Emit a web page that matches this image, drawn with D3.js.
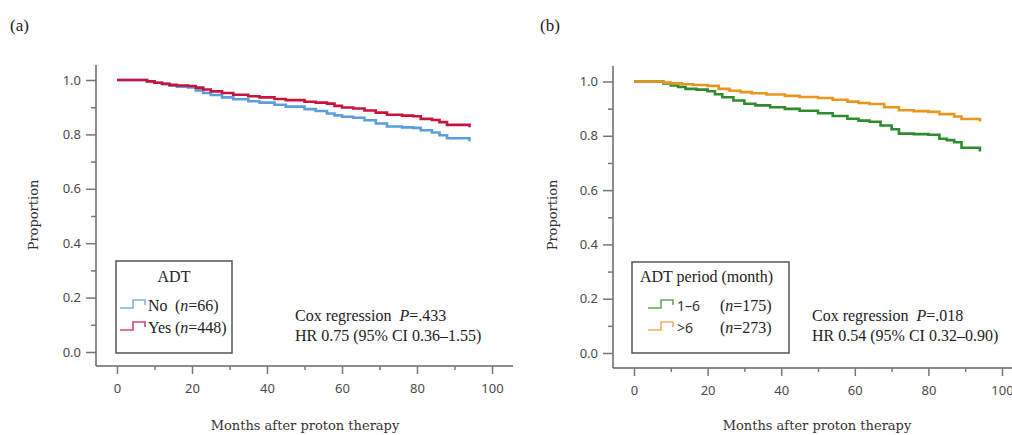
<!DOCTYPE html>
<html lang="en">
<head>
<meta charset="utf-8">
<title>Proportion vs months after proton therapy</title>
<script src="https://cdn.jsdelivr.net/npm/d3@7"></script>
<style>
  body { margin: 0; background: #fff; }
  .tick text { font-family: "Noto Sans", sans-serif; font-size: 13px; fill: #4a4a4a; }
  .serif { font-family: "Liberation Serif", serif; fill: #222; }
  .slab { font-family: "DejaVu Serif", serif; fill: #333; font-size: 13px; }
</style>
</head>
<body>
<script>
// time axis ticks
var xTicks = [0, 20, 40, 60, 80, 100];
var xMinor = [10, 30, 50, 70, 90];
var yTicks = [0, 0.2, 0.4, 0.6, 0.8, 1.0];
var yMinor = [0.1, 0.3, 0.5, 0.7, 0.9];

// panel (a): ADT no / yes
var noTime = [0, 8, 10, 12, 14, 16, 19, 21, 23, 25, 28, 31, 35, 38, 42, 45, 50, 53, 56, 58, 60, 63, 66, 69, 72, 76, 79, 81, 84, 86, 88, 94];
var noSurv = [1.0, 0.995, 0.99, 0.985, 0.979, 0.975, 0.973, 0.962, 0.952, 0.945, 0.936, 0.929, 0.922, 0.917, 0.909, 0.902, 0.893, 0.886, 0.877, 0.87, 0.865, 0.861, 0.852, 0.84, 0.829, 0.826, 0.824, 0.815, 0.807, 0.797, 0.786, 0.775];
var yesTime = [0, 8, 10, 12, 14, 16, 19, 21, 23, 25, 28, 31, 35, 38, 42, 45, 50, 53, 56, 58, 60, 63, 66, 69, 72, 76, 79, 81, 84, 86, 88, 94];
var yesSurv = [1.0, 0.995, 0.99, 0.986, 0.982, 0.98, 0.978, 0.972, 0.965, 0.958, 0.952, 0.946, 0.94, 0.936, 0.93, 0.926, 0.92, 0.917, 0.913, 0.905, 0.899, 0.895, 0.888, 0.88, 0.872, 0.869, 0.867, 0.857, 0.853, 0.845, 0.835, 0.826];

// panel (b): ADT period 1-6 / >6 months
var shortTime = [0, 8, 10, 12, 14, 17, 20, 22, 24, 27, 30, 33, 37, 41, 45, 50, 54, 58, 61, 64, 67, 70, 72, 76, 80, 83, 85, 87, 89, 94];
var shortSurv = [1.0, 0.993, 0.985, 0.98, 0.973, 0.97, 0.964, 0.953, 0.942, 0.93, 0.918, 0.912, 0.905, 0.899, 0.892, 0.883, 0.873, 0.863, 0.856, 0.852, 0.838, 0.824, 0.808, 0.806, 0.804, 0.789, 0.784, 0.776, 0.756, 0.742];
var longTime = [0, 8, 10, 13, 16, 20, 23, 26, 29, 32, 36, 41, 45, 50, 54, 58, 61, 64, 68, 72, 76, 80, 83, 87, 89, 94];
var longSurv = [1.0, 0.996, 0.993, 0.99, 0.987, 0.984, 0.973, 0.966, 0.961, 0.957, 0.952, 0.947, 0.943, 0.939, 0.933, 0.926, 0.921, 0.917, 0.905, 0.894, 0.891, 0.888, 0.88, 0.871, 0.862, 0.853];

var w = 1012, h = 435;
var svg = d3.select("body").append("svg").attr("width", w).attr("height", h);

var panels = [
  { tag: "(a)", tagX: 10, axX: 96, axTop: 65, axBot: 366, axRight: 513,
    xr: [117, 492], yr: [352, 80], ylabX: 33, xlabX: 305,
    series: [
      { t: noTime, s: noSurv, color: "#5b9ee0", legColor: "#7fb2e6" },
      { t: yesTime, s: yesSurv, color: "#c8143c", legColor: "#cf4a68" }
    ],
    legBox: [116, 261, 116, 92], legTitle: "ADT", legTitleX: 174, legTitleAnchor: "middle",
    legItems: [["No", "66"], ["Yes", "448"]], symX: 120, labX: 148, nX: 175, legFont: "serif",
    coxX: 295, p: ".433", hr: "HR 0.75 (95% CI 0.36\u20131.55)" },
  { tag: "(b)", tagX: 540, axX: 613, axTop: 66, axBot: 368, axRight: 1012,
    xr: [634, 1002], yr: [353, 81.5], ylabX: 552, xlabX: 817,
    series: [
      { t: shortTime, s: shortSurv, color: "#2e8b2e", legColor: "#62a862" },
      { t: longTime, s: longSurv, color: "#e8961e", legColor: "#ebb060" }
    ],
    legBox: [632, 262, 157, 91], legTitle: "ADT period (month)", legTitleX: 640, legTitleAnchor: "start",
    legItems: [["1\u20136", "175"], [">6", "273"]], symX: 648, labX: 677, nX: 720, legFont: "sans",
    coxX: 812, p: ".018", hr: "HR 0.54 (95% CI 0.32\u20130.90)" }
];

panels.forEach(function(p) {
  var x = d3.scaleLinear().domain([0, 100]).range(p.xr);
  var y = d3.scaleLinear().domain([0, 1]).range(p.yr);
  var g = svg.append("g");

  // panel tag
  g.append("text").attr("class", "serif").attr("x", p.tagX).attr("y", 31)
    .style("font-size", "17px").text(p.tag);

  // axes lines
  g.append("line").attr("x1", p.axX).attr("x2", p.axX).attr("y1", p.axTop).attr("y2", p.axBot)
    .attr("stroke", "#666").attr("stroke-width", 1.5);
  g.append("line").attr("x1", p.axX).attr("x2", p.axRight).attr("y1", p.axBot).attr("y2", p.axBot)
    .attr("stroke", "#666").attr("stroke-width", 1.5);

  var xAxis = d3.axisBottom(x).tickValues(xTicks).tickSize(8).tickPadding(10).tickFormat(d3.format("d"));
  var xa = g.append("g").attr("transform", "translate(0," + p.axBot + ")").call(xAxis);
  var xm = g.append("g").attr("transform", "translate(0," + p.axBot + ")")
    .call(d3.axisBottom(x).tickValues(xMinor).tickSize(4).tickFormat(""));
  var yAxis = d3.axisLeft(y).tickValues(yTicks).tickSize(10).tickPadding(5).tickFormat(d3.format(".1f"));
  var ya = g.append("g").attr("transform", "translate(" + p.axX + ",0)").call(yAxis);
  var ym = g.append("g").attr("transform", "translate(" + p.axX + ",0)")
    .call(d3.axisLeft(y).tickValues(yMinor).tickSize(5).tickFormat(""));
  [xa, xm, ya, ym].forEach(function(a) {
    a.select(".domain").remove();
    a.selectAll(".tick line").attr("stroke", "#777").attr("stroke-width", 1.5);
  });

  // axis titles
  g.append("text").attr("class", "slab")
    .attr("transform", "translate(" + (p.ylabX + 5) + ",215) rotate(-90)")
    .attr("text-anchor", "middle").text("Proportion");
  g.append("text").attr("class", "slab")
    .attr("x", p.xlabX).attr("y", 430)
    .attr("text-anchor", "middle").text("Months after proton therapy");

  // survival curves
  var line = d3.line().curve(d3.curveStepAfter)
    .x(function(d) { return x(d[0]); }).y(function(d) { return y(d[1]); });
  p.series.forEach(function(s) {
    var pts = s.t.map(function(t, i) { return [t, s.s[i]]; });
    g.append("path").datum(pts).attr("d", line)
      .attr("fill", "none").attr("stroke", s.color).attr("stroke-width", 2.6);
  });

  // legend
  g.append("rect").attr("x", p.legBox[0]).attr("y", p.legBox[1])
    .attr("width", p.legBox[2]).attr("height", p.legBox[3])
    .attr("fill", "none").attr("stroke", "#555").attr("stroke-width", 1.5);
  g.append("text").attr("class", "serif").attr("x", p.legTitleX).attr("y", 282)
    .attr("text-anchor", p.legTitleAnchor).style("font-size", "16px").text(p.legTitle);
  p.legItems.forEach(function(it, i) {
    var by = 311 + i * 22;
    var sx = p.symX;
    g.append("path")
      .attr("d", "M" + sx + "," + (by - 3) + "H" + (sx + 13) + "V" + (by - 11) + "H" + (sx + 25) + "V" + (by - 6))
      .attr("fill", "none").attr("stroke", p.series[i].legColor).attr("stroke-width", 1.6);
    var lab = g.append("text").attr("x", p.labX).attr("y", by).text(it[0]);
    if (p.legFont === "serif") lab.attr("class", "serif").style("font-size", "16px");
    else lab.style("font-family", "Noto Sans, sans-serif").style("font-size", "14px").attr("fill", "#333");
    var nt = g.append("text").attr("class", "serif").attr("x", p.nX).attr("y", by).style("font-size", "16px");
    nt.append("tspan").text("(");
    nt.append("tspan").style("font-style", "italic").text("n");
    nt.append("tspan").text("=" + it[1] + ")");
  });

  // cox regression note
  var c1 = g.append("text").attr("class", "serif").attr("x", p.coxX).attr("y", 321).style("font-size", "16px");
  c1.append("tspan").text("Cox regression\u00a0\u00a0");
  c1.append("tspan").style("font-style", "italic").text("P");
  c1.append("tspan").text("=" + p.p);
  g.append("text").attr("class", "serif").attr("x", p.coxX).attr("y", 341).style("font-size", "16px").text(p.hr);
});
</script>
</body>
</html>
